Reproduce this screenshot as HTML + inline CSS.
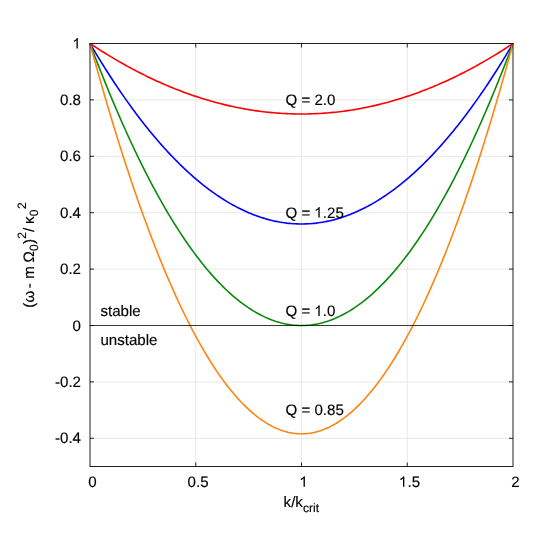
<!DOCTYPE html>
<html><head><meta charset="utf-8"><title>chart</title>
<style>
html,body{margin:0;padding:0;background:#fff;}
body{width:540px;height:540px;overflow:hidden;}
svg{display:block;will-change:transform;}
text{text-rendering:geometricPrecision;font-family:"Liberation Sans",sans-serif;fill:#000;stroke:#000;stroke-width:0.15px;font-kerning:none;}
.h{fill:none;stroke:none;}
</style></head><body>
<svg width="540" height="540" viewBox="0 0 540 540">
<rect width="540" height="540" fill="#fff"/>
<path d="M195.75 43.5 V466.5 M301.50 43.5 V466.5 M407.25 43.5 V466.5 M90.0 99.90 H513.0 M90.0 156.30 H513.0 M90.0 212.70 H513.0 M90.0 269.10 H513.0 M90.0 325.50 H513.0 M90.0 381.90 H513.0 M90.0 438.30 H513.0" stroke="#e8e8e8" stroke-width="1" fill="none"/>
<path d="M90.00 43.50 L92.11 44.90 L94.23 46.29 L96.34 47.67 L98.46 49.03 L100.58 50.37 L102.69 51.71 L104.81 53.02 L106.92 54.33 L109.03 55.62 L111.15 56.89 L113.27 58.16 L115.38 59.40 L117.50 60.64 L119.61 61.86 L121.72 63.06 L123.84 64.26 L125.96 65.43 L128.07 66.60 L130.19 67.74 L132.30 68.88 L134.41 70.00 L136.53 71.11 L138.65 72.20 L140.76 73.28 L142.88 74.34 L144.99 75.39 L147.11 76.43 L149.22 77.45 L151.33 78.46 L153.45 79.45 L155.56 80.43 L157.68 81.40 L159.80 82.35 L161.91 83.29 L164.03 84.21 L166.14 85.12 L168.25 86.02 L170.37 86.90 L172.49 87.77 L174.60 88.62 L176.72 89.46 L178.83 90.28 L180.94 91.09 L183.06 91.89 L185.18 92.67 L187.29 93.44 L189.41 94.20 L191.52 94.94 L193.63 95.66 L195.75 96.38 L197.87 97.07 L199.98 97.76 L202.09 98.43 L204.21 99.08 L206.32 99.72 L208.44 100.35 L210.56 100.96 L212.67 101.56 L214.78 102.15 L216.90 102.72 L219.01 103.28 L221.13 103.82 L223.25 104.35 L225.36 104.86 L227.47 105.36 L229.59 105.85 L231.71 106.32 L233.82 106.78 L235.94 107.22 L238.05 107.66 L240.16 108.07 L242.28 108.47 L244.40 108.86 L246.51 109.23 L248.62 109.59 L250.74 109.94 L252.85 110.27 L254.97 110.59 L257.09 110.89 L259.20 111.18 L261.31 111.45 L263.43 111.72 L265.55 111.96 L267.66 112.20 L269.77 112.41 L271.89 112.62 L274.00 112.81 L276.12 112.98 L278.24 113.15 L280.35 113.30 L282.47 113.43 L284.58 113.55 L286.70 113.65 L288.81 113.75 L290.93 113.82 L293.04 113.89 L295.15 113.94 L297.27 113.97 L299.38 113.99 L301.50 114.00 L303.62 113.99 L305.73 113.97 L307.85 113.94 L309.96 113.89 L312.08 113.82 L314.19 113.75 L316.31 113.65 L318.42 113.55 L320.54 113.43 L322.65 113.30 L324.76 113.15 L326.88 112.98 L329.00 112.81 L331.11 112.62 L333.23 112.41 L335.34 112.20 L337.45 111.96 L339.57 111.72 L341.69 111.45 L343.80 111.18 L345.91 110.89 L348.03 110.59 L350.14 110.27 L352.26 109.94 L354.38 109.59 L356.49 109.23 L358.61 108.86 L360.72 108.47 L362.83 108.07 L364.95 107.66 L367.06 107.22 L369.18 106.78 L371.30 106.32 L373.41 105.85 L375.53 105.36 L377.64 104.86 L379.75 104.35 L381.87 103.82 L383.99 103.28 L386.10 102.72 L388.21 102.15 L390.33 101.56 L392.44 100.96 L394.56 100.35 L396.68 99.72 L398.79 99.08 L400.90 98.43 L403.02 97.76 L405.13 97.07 L407.25 96.38 L409.37 95.66 L411.48 94.94 L413.60 94.20 L415.71 93.44 L417.82 92.67 L419.94 91.89 L422.06 91.09 L424.17 90.28 L426.29 89.46 L428.40 88.62 L430.52 87.77 L432.63 86.90 L434.75 86.02 L436.86 85.12 L438.98 84.21 L441.09 83.29 L443.20 82.35 L445.32 81.40 L447.44 80.43 L449.55 79.45 L451.67 78.46 L453.78 77.45 L455.89 76.43 L458.01 75.39 L460.12 74.34 L462.24 73.28 L464.36 72.20 L466.47 71.11 L468.58 70.00 L470.70 68.88 L472.81 67.74 L474.93 66.60 L477.05 65.43 L479.16 64.26 L481.28 63.06 L483.39 61.86 L485.50 60.64 L487.62 59.40 L489.74 58.16 L491.85 56.89 L493.97 55.62 L496.08 54.33 L498.19 53.02 L500.31 51.71 L502.43 50.37 L504.54 49.03 L506.65 47.67 L508.77 46.29 L510.88 44.90 L513.00 43.50" stroke="#ff0000" stroke-width="1.6" fill="none" stroke-linejoin="round"/>
<path d="M90.00 43.50 L92.11 47.09 L94.23 50.65 L96.34 54.17 L98.46 57.65 L100.58 61.10 L102.69 64.51 L104.81 67.88 L106.92 71.22 L109.03 74.52 L111.15 77.79 L113.27 81.02 L115.38 84.22 L117.50 87.37 L119.61 90.50 L121.72 93.58 L123.84 96.63 L125.96 99.65 L128.07 102.63 L130.19 105.57 L132.30 108.47 L134.41 111.34 L136.53 114.18 L138.65 116.97 L140.76 119.73 L142.88 122.46 L144.99 125.15 L147.11 127.80 L149.22 130.42 L151.33 133.00 L153.45 135.54 L155.56 138.05 L157.68 140.53 L159.80 142.96 L161.91 145.36 L164.03 147.73 L166.14 150.06 L168.25 152.35 L170.37 154.60 L172.49 156.82 L174.60 159.01 L176.72 161.15 L178.83 163.27 L180.94 165.34 L183.06 167.38 L185.18 169.38 L187.29 171.35 L189.41 173.28 L191.52 175.18 L193.63 177.04 L195.75 178.86 L197.87 180.65 L199.98 182.40 L202.09 184.11 L204.21 185.79 L206.32 187.43 L208.44 189.04 L210.56 190.61 L212.67 192.14 L214.78 193.64 L216.90 195.10 L219.01 196.53 L221.13 197.92 L223.25 199.27 L225.36 200.59 L227.47 201.87 L229.59 203.12 L231.71 204.33 L233.82 205.50 L235.94 206.64 L238.05 207.74 L240.16 208.80 L242.28 209.83 L244.40 210.82 L246.51 211.78 L248.62 212.70 L250.74 213.58 L252.85 214.43 L254.97 215.24 L257.09 216.02 L259.20 216.76 L261.31 217.46 L263.43 218.13 L265.55 218.76 L267.66 219.36 L269.77 219.92 L271.89 220.44 L274.00 220.93 L276.12 221.38 L278.24 221.80 L280.35 222.18 L282.47 222.52 L284.58 222.82 L286.70 223.10 L288.81 223.33 L290.93 223.53 L293.04 223.69 L295.15 223.82 L297.27 223.91 L299.38 223.96 L301.50 223.98 L303.62 223.96 L305.73 223.91 L307.85 223.82 L309.96 223.69 L312.08 223.53 L314.19 223.33 L316.31 223.10 L318.42 222.82 L320.54 222.52 L322.65 222.18 L324.76 221.80 L326.88 221.38 L329.00 220.93 L331.11 220.44 L333.23 219.92 L335.34 219.36 L337.45 218.76 L339.57 218.13 L341.69 217.46 L343.80 216.76 L345.91 216.02 L348.03 215.24 L350.14 214.43 L352.26 213.58 L354.38 212.70 L356.49 211.78 L358.61 210.82 L360.72 209.83 L362.83 208.80 L364.95 207.74 L367.06 206.64 L369.18 205.50 L371.30 204.33 L373.41 203.12 L375.53 201.87 L377.64 200.59 L379.75 199.27 L381.87 197.92 L383.99 196.53 L386.10 195.10 L388.21 193.64 L390.33 192.14 L392.44 190.61 L394.56 189.04 L396.68 187.43 L398.79 185.79 L400.90 184.11 L403.02 182.40 L405.13 180.65 L407.25 178.86 L409.37 177.04 L411.48 175.18 L413.60 173.28 L415.71 171.35 L417.82 169.38 L419.94 167.38 L422.06 165.34 L424.17 163.27 L426.29 161.15 L428.40 159.01 L430.52 156.82 L432.63 154.60 L434.75 152.35 L436.86 150.06 L438.98 147.73 L441.09 145.36 L443.20 142.96 L445.32 140.53 L447.44 138.05 L449.55 135.54 L451.67 133.00 L453.78 130.42 L455.89 127.80 L458.01 125.15 L460.12 122.46 L462.24 119.73 L464.36 116.97 L466.47 114.18 L468.58 111.34 L470.70 108.47 L472.81 105.57 L474.93 102.63 L477.05 99.65 L479.16 96.63 L481.28 93.58 L483.39 90.50 L485.50 87.37 L487.62 84.22 L489.74 81.02 L491.85 77.79 L493.97 74.52 L496.08 71.22 L498.19 67.88 L500.31 64.51 L502.43 61.10 L504.54 57.65 L506.65 54.17 L508.77 50.65 L510.88 47.09 L513.00 43.50" stroke="#0000ff" stroke-width="1.6" fill="none" stroke-linejoin="round"/>
<path d="M90.00 43.50 L92.11 49.11 L94.23 54.67 L96.34 60.17 L98.46 65.61 L100.58 71.00 L102.69 76.32 L104.81 81.60 L106.92 86.82 L109.03 91.98 L111.15 97.08 L113.27 102.13 L115.38 107.12 L117.50 112.05 L119.61 116.93 L121.72 121.76 L123.84 126.52 L125.96 131.23 L128.07 135.88 L130.19 140.48 L132.30 145.02 L134.41 149.50 L136.53 153.93 L138.65 158.30 L140.76 162.62 L142.88 166.88 L144.99 171.08 L147.11 175.22 L149.22 179.31 L151.33 183.34 L153.45 187.32 L155.56 191.24 L157.68 195.10 L159.80 198.91 L161.91 202.66 L164.03 206.35 L166.14 209.99 L168.25 213.57 L170.37 217.10 L172.49 220.57 L174.60 223.98 L176.72 227.34 L178.83 230.64 L180.94 233.88 L183.06 237.06 L185.18 240.20 L187.29 243.27 L189.41 246.29 L191.52 249.25 L193.63 252.15 L195.75 255.00 L197.87 257.79 L199.98 260.53 L202.09 263.21 L204.21 265.83 L206.32 268.39 L208.44 270.90 L210.56 273.36 L212.67 275.76 L214.78 278.10 L216.90 280.38 L219.01 282.61 L221.13 284.78 L223.25 286.89 L225.36 288.95 L227.47 290.96 L229.59 292.90 L231.71 294.79 L233.82 296.62 L235.94 298.40 L238.05 300.12 L240.16 301.78 L242.28 303.39 L244.40 304.94 L246.51 306.44 L248.62 307.88 L250.74 309.26 L252.85 310.58 L254.97 311.85 L257.09 313.06 L259.20 314.22 L261.31 315.32 L263.43 316.36 L265.55 317.35 L267.66 318.28 L269.77 319.15 L271.89 319.97 L274.00 320.73 L276.12 321.44 L278.24 322.09 L280.35 322.68 L282.47 323.22 L284.58 323.70 L286.70 324.12 L288.81 324.48 L290.93 324.80 L293.04 325.05 L295.15 325.25 L297.27 325.39 L299.38 325.47 L301.50 325.50 L303.62 325.47 L305.73 325.39 L307.85 325.25 L309.96 325.05 L312.08 324.80 L314.19 324.48 L316.31 324.12 L318.42 323.70 L320.54 323.22 L322.65 322.68 L324.76 322.09 L326.88 321.44 L329.00 320.73 L331.11 319.97 L333.23 319.15 L335.34 318.28 L337.45 317.35 L339.57 316.36 L341.69 315.32 L343.80 314.22 L345.91 313.06 L348.03 311.85 L350.14 310.58 L352.26 309.26 L354.38 307.88 L356.49 306.44 L358.61 304.94 L360.72 303.39 L362.83 301.78 L364.95 300.12 L367.06 298.40 L369.18 296.62 L371.30 294.79 L373.41 292.90 L375.53 290.96 L377.64 288.95 L379.75 286.89 L381.87 284.78 L383.99 282.61 L386.10 280.38 L388.21 278.10 L390.33 275.76 L392.44 273.36 L394.56 270.90 L396.68 268.39 L398.79 265.83 L400.90 263.21 L403.02 260.53 L405.13 257.79 L407.25 255.00 L409.37 252.15 L411.48 249.25 L413.60 246.29 L415.71 243.27 L417.82 240.19 L419.94 237.06 L422.06 233.88 L424.17 230.64 L426.29 227.34 L428.40 223.98 L430.52 220.57 L432.63 217.10 L434.75 213.57 L436.86 209.99 L438.98 206.35 L441.09 202.66 L443.20 198.91 L445.32 195.10 L447.44 191.24 L449.55 187.32 L451.67 183.34 L453.78 179.31 L455.89 175.22 L458.01 171.08 L460.12 166.88 L462.24 162.62 L464.36 158.30 L466.47 153.93 L468.58 149.50 L470.70 145.02 L472.81 140.48 L474.93 135.88 L477.05 131.23 L479.16 126.52 L481.28 121.75 L483.39 116.93 L485.50 112.05 L487.62 107.12 L489.74 102.13 L491.85 97.08 L493.97 91.98 L496.08 86.82 L498.19 81.60 L500.31 76.32 L502.43 71.00 L504.54 65.61 L506.65 60.17 L508.77 54.67 L510.88 49.11 L513.00 43.50" stroke="#0a8a0a" stroke-width="1.6" fill="none" stroke-linejoin="round"/>
<path d="M90.00 43.50 L92.11 51.27 L94.23 58.96 L96.34 66.57 L98.46 74.10 L100.58 81.56 L102.69 88.93 L104.81 96.23 L106.92 103.45 L109.03 110.59 L111.15 117.66 L113.27 124.65 L115.38 131.55 L117.50 138.38 L119.61 145.14 L121.72 151.81 L123.84 158.41 L125.96 164.93 L128.07 171.37 L130.19 177.73 L132.30 184.01 L134.41 190.22 L136.53 196.35 L138.65 202.40 L140.76 208.37 L142.88 214.26 L144.99 220.08 L147.11 225.81 L149.22 231.47 L151.33 237.06 L153.45 242.56 L155.56 247.98 L157.68 253.33 L159.80 258.60 L161.91 263.79 L164.03 268.90 L166.14 273.94 L168.25 278.90 L170.37 283.78 L172.49 288.58 L174.60 293.30 L176.72 297.94 L178.83 302.51 L180.94 307.00 L183.06 311.41 L185.18 315.74 L187.29 320.00 L189.41 324.17 L191.52 328.27 L193.63 332.29 L195.75 336.23 L197.87 340.10 L199.98 343.88 L202.09 347.59 L204.21 351.22 L206.32 354.77 L208.44 358.25 L210.56 361.64 L212.67 364.96 L214.78 368.20 L216.90 371.36 L219.01 374.45 L221.13 377.45 L223.25 380.38 L225.36 383.23 L227.47 386.00 L229.59 388.69 L231.71 391.31 L233.82 393.84 L235.94 396.30 L238.05 398.68 L240.16 400.99 L242.28 403.21 L244.40 405.36 L246.51 407.43 L248.62 409.42 L250.74 411.33 L252.85 413.16 L254.97 414.92 L257.09 416.60 L259.20 418.20 L261.31 419.72 L263.43 421.17 L265.55 422.53 L267.66 423.82 L269.77 425.03 L271.89 426.16 L274.00 427.22 L276.12 428.19 L278.24 429.09 L280.35 429.91 L282.47 430.65 L284.58 431.31 L286.70 431.90 L288.81 432.41 L290.93 432.84 L293.04 433.19 L295.15 433.46 L297.27 433.66 L299.38 433.77 L301.50 433.81 L303.62 433.77 L305.73 433.66 L307.85 433.46 L309.96 433.19 L312.08 432.84 L314.19 432.41 L316.31 431.90 L318.42 431.31 L320.54 430.65 L322.65 429.91 L324.76 429.09 L326.88 428.19 L329.00 427.22 L331.11 426.16 L333.23 425.03 L335.34 423.82 L337.45 422.53 L339.57 421.17 L341.69 419.72 L343.80 418.20 L345.91 416.60 L348.03 414.92 L350.14 413.16 L352.26 411.33 L354.38 409.42 L356.49 407.43 L358.61 405.36 L360.72 403.21 L362.83 400.99 L364.95 398.68 L367.06 396.30 L369.18 393.84 L371.30 391.31 L373.41 388.69 L375.53 386.00 L377.64 383.23 L379.75 380.38 L381.87 377.45 L383.99 374.45 L386.10 371.36 L388.21 368.20 L390.33 364.96 L392.44 361.64 L394.56 358.25 L396.68 354.77 L398.79 351.22 L400.90 347.59 L403.02 343.88 L405.13 340.10 L407.25 336.23 L409.37 332.29 L411.48 328.27 L413.60 324.17 L415.71 320.00 L417.82 315.74 L419.94 311.41 L422.06 307.00 L424.17 302.51 L426.29 297.94 L428.40 293.30 L430.52 288.58 L432.63 283.78 L434.75 278.90 L436.86 273.94 L438.98 268.90 L441.09 263.79 L443.20 258.60 L445.32 253.33 L447.44 247.98 L449.55 242.56 L451.67 237.06 L453.78 231.47 L455.89 225.81 L458.01 220.08 L460.12 214.26 L462.24 208.37 L464.36 202.40 L466.47 196.35 L468.58 190.22 L470.70 184.01 L472.81 177.73 L474.93 171.37 L477.05 164.93 L479.16 158.41 L481.28 151.81 L483.39 145.14 L485.50 138.38 L487.62 131.55 L489.74 124.65 L491.85 117.66 L493.97 110.59 L496.08 103.45 L498.19 96.23 L500.31 88.93 L502.43 81.56 L504.54 74.10 L506.65 66.57 L508.77 58.96 L510.88 51.27 L513.00 43.50" stroke="#ff8410" stroke-width="1.6" fill="none" stroke-linejoin="round"/>
<path d="M90.0 325.50 H513.0" stroke="#000" stroke-width="0.76" fill="none"/>
<path d="M195.75 466.5 v-4 M195.75 43.5 v4 M301.50 466.5 v-4 M301.50 43.5 v4 M407.25 466.5 v-4 M407.25 43.5 v4 M90.0 99.90 h4 M513.0 99.90 h-4 M90.0 156.30 h4 M513.0 156.30 h-4 M90.0 212.70 h4 M513.0 212.70 h-4 M90.0 269.10 h4 M513.0 269.10 h-4 M90.0 325.50 h4 M513.0 325.50 h-4 M90.0 381.90 h4 M513.0 381.90 h-4 M90.0 438.30 h4 M513.0 438.30 h-4" stroke="#000" stroke-width="0.85" fill="none"/>
<rect x="90.0" y="43.5" width="423.0" height="423.0" fill="none" stroke="#000" stroke-width="0.88"/>
<text x="72.60" y="48.60" font-size="15.1"><tspan class="h">1</tspan></text><path d="M763 0H583V1147Q518 1085 412 1023T223 930V1104Q373 1174 485 1275T644 1466H763Z" transform="translate(72.20 48.60) scale(0.007373 -0.007226)" fill="#000"/>
<text x="60.01" y="105.00" font-size="15.1">0.8</text>
<text x="60.01" y="161.40" font-size="15.1">0.6</text>
<text x="60.01" y="217.80" font-size="15.1">0.4</text>
<text x="60.01" y="274.20" font-size="15.1">0.2</text>
<text x="72.60" y="330.60" font-size="15.1">0</text>
<text x="54.98" y="387.00" font-size="15.1">-0.2</text>
<text x="54.98" y="443.40" font-size="15.1">-0.4</text>
<text x="88.15" y="486.80" font-size="15.1">0</text>
<text x="187.61" y="486.80" font-size="15.1">0.5</text>
<text x="299.65" y="486.80" font-size="15.1"><tspan class="h">1</tspan></text><path d="M763 0H583V1147Q518 1085 412 1023T223 930V1104Q373 1174 485 1275T644 1466H763Z" transform="translate(299.25 486.80) scale(0.007373 -0.007226)" fill="#000"/>
<text x="399.11" y="486.80" font-size="15.1"><tspan class="h">1</tspan>.5</text><path d="M763 0H583V1147Q518 1085 412 1023T223 930V1104Q373 1174 485 1275T644 1466H763Z" transform="translate(398.71 486.80) scale(0.007373 -0.007226)" fill="#000"/>
<text x="511.15" y="486.80" font-size="15.1">2</text>
<text x="285.50" y="104.80" font-size="15.1">Q = 2.0</text>
<text x="285.50" y="217.60" font-size="15.1">Q = <tspan class="h">1</tspan>.25</text><path d="M763 0H583V1147Q518 1085 412 1023T223 930V1104Q373 1174 485 1275T644 1466H763Z" transform="translate(314.06 217.60) scale(0.007373 -0.007226)" fill="#000"/>
<text x="285.50" y="315.90" font-size="15.1">Q = <tspan class="h">1</tspan>.0</text><path d="M763 0H583V1147Q518 1085 412 1023T223 930V1104Q373 1174 485 1275T644 1466H763Z" transform="translate(314.06 315.90) scale(0.007373 -0.007226)" fill="#000"/>
<text x="285.50" y="414.60" font-size="15.1">Q = 0.85</text>
<text x="100.4" y="316.2" font-size="15.1">stable</text>
<text x="100.4" y="344.5" font-size="15.1">unstable</text>
<text x="283.6" y="507.2" font-size="15.1">k/k<tspan font-size="12.08" dy="5">crit</tspan></text>
<g transform="translate(33.8,307.5) rotate(-90)"><text x="-0.14" y="0" font-size="15.1">(</text><text x="4.9" y="0" font-size="15.1">ω</text><text x="19.19" y="0" font-size="15.1">-</text><text x="28.7" y="0" font-size="15.1">m</text><text x="45.0" y="0" font-size="15.1">Ω</text><text x="56.6" y="4.0" font-size="12.08">0</text><text x="63.4" y="0" font-size="15.1">)</text><text x="68.7" y="-8.3" font-size="12.08">2</text><text x="75.4" y="0" font-size="15.1">/</text><text x="83.4" y="0" font-size="15.1">κ</text><text x="91.2" y="4.0" font-size="12.08">0</text><text x="98.4" y="-8.3" font-size="12.08">2</text></g>
</svg></body></html>
